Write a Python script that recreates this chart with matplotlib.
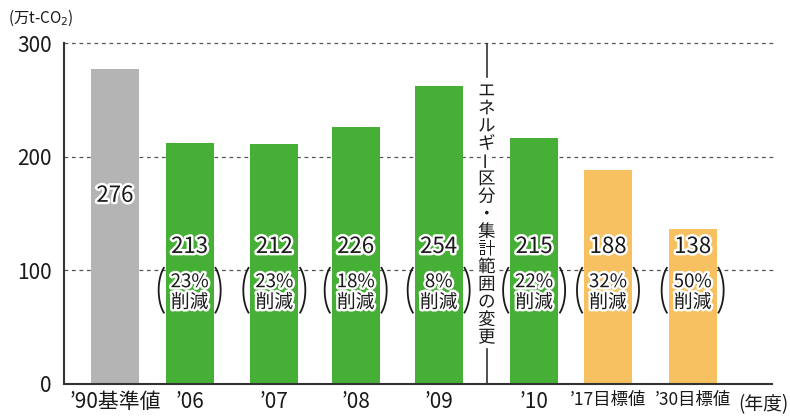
import numpy as np
import matplotlib
matplotlib.use("Agg")
import matplotlib.pyplot as plt
import matplotlib.patheffects as pe

plt.rcParams['font.family'] = ['Noto Sans CJK JP', 'DejaVu Sans']

# data
categories = ['’90基準値', '’06', '’07', '’08', '’09', '’10', '’17目標値', '’30目標値']
bar_heights = [277, 212, 211, 226, 262, 216, 188, 136]
value_labels = ['276', '213', '212', '226', '254', '215', '188', '138']
cut_labels = [None, '23%', '23%', '18%', '8%', '22%', '32%', '50%']
bar_colors = ['#b4b4b4', '#46af36', '#46af36', '#46af36', '#46af36', '#46af36', '#f7c060', '#f7c060']
yticks = [0, 100, 200, 300]
divider_text = 'エネルギー区分・集計範囲の変更'

# layout (slot units, one slot = 83 px)
pos = np.array([0, 0.90, 1.92, 2.90, 3.90, 5.05, 5.94, 6.96])
width = 0.578
divider_x = 4.48
px_x = 83.0                      # px per x unit
px_y = 341.0 / 300.0             # px per y unit

fig = plt.figure(figsize=(7.9, 4.16), dpi=100)
ax = fig.add_axes([64 / 790, 32 / 416, 708 / 790, 341 / 416])
ax.set_xlim(-0.614, 7.916)
ax.set_ylim(0, 300)

for yv in [100, 200, 300]:
    ax.plot([-0.614, 7.96], [yv, yv], ls=(0, (3, 3)), color='#555555', lw=0.9,
            zorder=1, clip_on=False)

ax.bar(pos, bar_heights, width=width, color=bar_colors, zorder=2)

stroke = [pe.withStroke(linewidth=3.5, foreground='white')]
txt_color = '#1a1a1a'

for i, (x, v) in enumerate(zip(pos, value_labels)):
    if cut_labels[i] is None:
        ax.text(x, 166, v, ha='center', va='center', fontsize=16, color=txt_color,
                path_effects=stroke, zorder=4)
        continue
    ax.text(x, 121, v, ha='center', va='center', fontsize=16, color=txt_color,
            path_effects=stroke, zorder=4)
    ax.text(x, 90, cut_labels[i], ha='center', va='center', fontsize=13.5,
            color=txt_color, path_effects=stroke, zorder=4)
    ax.text(x, 72, '削減', ha='center', va='center', fontsize=13.5,
            color=txt_color, path_effects=stroke, zorder=4)
    # parentheses
    t = np.deg2rad(np.linspace(127, 233, 40))
    a, b = 13.0, 28.0
    cy = 82.5
    for side in (-1, 1):
        cx = x + side * (31 - a) / px_x
        xs = cx - side * a * np.cos(t) / px_x
        ys = cy + b * np.sin(t) / px_y
        ax.plot(xs, ys, color=txt_color, lw=1.3, zorder=4, clip_on=False)

# divider line and vertical text
ax.plot([divider_x, divider_x], [300, (384 - 77) / px_y], color='#333333', lw=1.2, zorder=3)
ax.plot([divider_x, divider_x], [(384 - 349) / px_y, 0], color='#333333', lw=1.2, zorder=3)
for k, ch in enumerate(divider_text):
    yc = (384 - (91 + k * 17.6)) / px_y
    rot = 90 if ch == 'ー' else 0
    ax.text(divider_x, yc, ch, ha='center', va='center', fontsize=12.5,
            color=txt_color, rotation=rot, path_effects=stroke, zorder=4)

# axes styling
for s in ['top', 'right']:
    ax.spines[s].set_visible(False)
ax.spines['left'].set_color('#333333')
ax.spines['bottom'].set_color('#333333')
ax.spines['left'].set_linewidth(1.5)
ax.spines['bottom'].set_linewidth(1.5)
ax.set_yticks(yticks)
ax.set_yticklabels([str(v) for v in yticks], fontsize=15, color=txt_color)
ax.set_xticks(pos)
ax.set_xticklabels(categories, fontsize=15, color=txt_color)
for lbl in ax.get_xticklabels()[6:]:
    lbl.set_fontsize(12.5)
ax.tick_params(axis='y', length=0, pad=9)
ax.tick_params(axis='x', length=0, pad=5)

fig.text(8 / 790, 1 - 18 / 416, '(万t-CO$_2$)', fontsize=11, color=txt_color,
         ha='left', va='center')
fig.text(1 - 1 / 790, 1 - 405 / 416, '(年度)', fontsize=13.5, color=txt_color,
         ha='right', va='center')

fig.savefig('out.png', dpi=100)
